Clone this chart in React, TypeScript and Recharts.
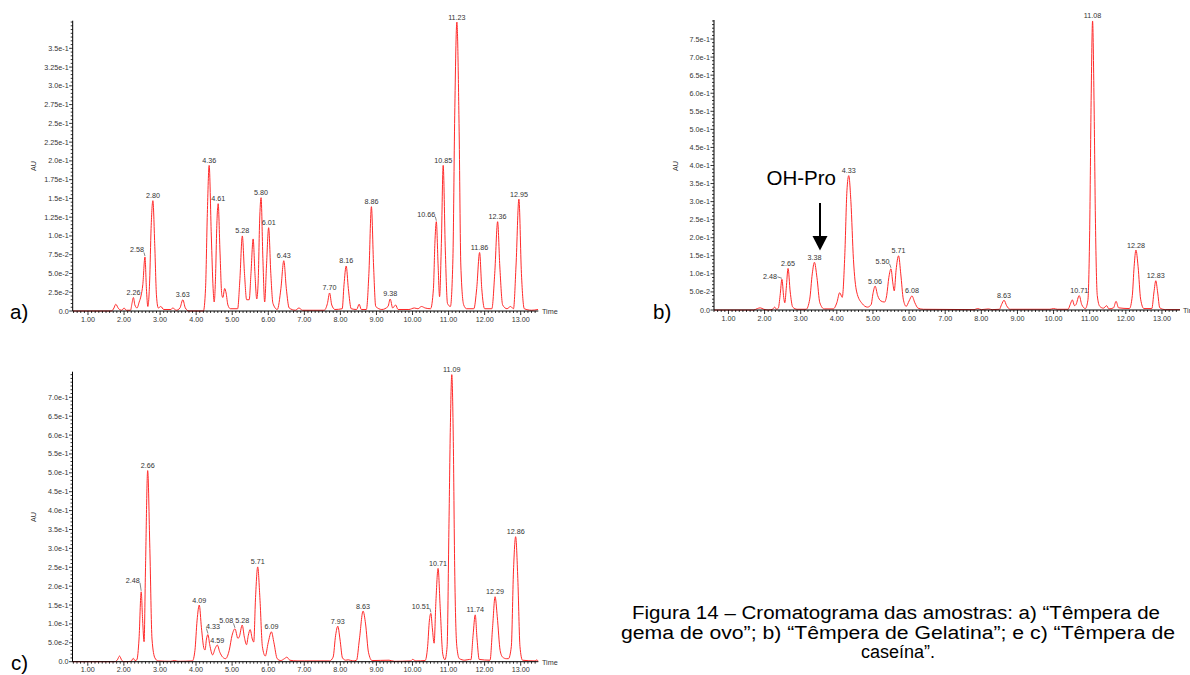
import React from "react";
import { LineChart, Line, XAxis, YAxis } from "recharts";

// chromatogram traces: [time (min), AU]
const traceA = [
  [0.58, 0], [1.65, 0], [1.72, 0.004], [1.77, 0.009], [1.85, 0.003], [1.94, 0.001], [2.0, 0.004], [2.06, 0.001],
  [2.18, 0.001], [2.22, 0.01], [2.26, 0.018], [2.3, 0.008], [2.36, 0.004], [2.42, 0.012], [2.47, 0.02], [2.52, 0.035],
  [2.58, 0.072], [2.62, 0.03], [2.66, 0.006], [2.71, 0.04], [2.75, 0.11], [2.8, 0.147], [2.85, 0.09], [2.9, 0.02],
  [2.95, 0.004], [3.02, 0.006], [3.1, 0.002], [3.3, 0.002], [3.35, 0.004], [3.45, 0.001], [3.55, 0.004], [3.63, 0.015],
  [3.7, 0.004], [3.8, 0], [4.2, 0], [4.26, 0.03], [4.31, 0.13], [4.36, 0.194], [4.42, 0.1], [4.47, 0.03], [4.5, 0.012],
  [4.54, 0.05], [4.57, 0.11], [4.61, 0.143], [4.66, 0.08], [4.71, 0.022], [4.74, 0.018], [4.79, 0.03], [4.83, 0.024],
  [4.88, 0.008], [4.95, 0.003], [5.15, 0.003], [5.21, 0.04], [5.28, 0.1], [5.34, 0.05], [5.4, 0.015], [5.47, 0.015],
  [5.52, 0.05], [5.58, 0.096], [5.63, 0.05], [5.68, 0.016], [5.72, 0.04], [5.76, 0.12], [5.8, 0.151], [5.85, 0.07],
  [5.9, 0.012], [5.95, 0.06], [6.01, 0.111], [6.07, 0.05], [6.13, 0.01], [6.25, 0.002], [6.35, 0.03], [6.43, 0.067],
  [6.5, 0.03], [6.58, 0.004], [6.75, 0.001], [6.85, 0.004], [6.95, 0.001], [7.55, 0.001], [7.64, 0.01], [7.7, 0.024],
  [7.76, 0.008], [7.85, 0.002], [8.05, 0.003], [8.1, 0.035], [8.16, 0.06], [8.22, 0.03], [8.3, 0.003], [8.45, 0.002],
  [8.52, 0.009], [8.58, 0.002], [8.72, 0.002], [8.79, 0.05], [8.86, 0.139], [8.92, 0.06], [8.98, 0.006], [9.15, 0.002],
  [9.32, 0.006], [9.38, 0.016], [9.45, 0.004], [9.53, 0.008], [9.6, 0.002], [9.9, 0.002], [10.05, 0.004], [10.15, 0.003],
  [10.25, 0.006], [10.35, 0.004], [10.5, 0.003], [10.58, 0.03], [10.62, 0.09], [10.66, 0.119], [10.71, 0.06],
  [10.75, 0.019], [10.8, 0.09], [10.85, 0.194], [10.91, 0.08], [10.97, 0.01], [11.05, 0.006], [11.12, 0.07],
  [11.17, 0.26], [11.23, 0.385], [11.29, 0.25], [11.34, 0.06], [11.42, 0.008], [11.5, 0.003], [11.7, 0.003],
  [11.78, 0.03], [11.86, 0.078], [11.92, 0.03], [12.0, 0.003], [12.2, 0.003], [12.28, 0.05], [12.36, 0.119],
  [12.42, 0.06], [12.5, 0.008], [12.62, 0.003], [12.72, 0.006], [12.8, 0.003], [12.87, 0.06], [12.95, 0.149],
  [13.02, 0.05], [13.1, 0.003], [13.3, 0.001], [13.48, 0.002],
];

const traceB = [
  [0.6, 0], [1.7, 0], [1.8, 0.004], [1.88, 0.006], [1.98, 0.002], [2.1, 0], [2.22, 0.002], [2.28, 0.008], [2.33, 0.002],
  [2.38, 0.005], [2.43, 0.04], [2.48, 0.085], [2.53, 0.035], [2.56, 0.02], [2.6, 0.06], [2.65, 0.115], [2.71, 0.05],
  [2.78, 0.008], [2.9, 0.002], [3.15, 0.002], [3.25, 0.03], [3.32, 0.1], [3.38, 0.132], [3.45, 0.09], [3.53, 0.02],
  [3.65, 0.003], [3.9, 0.003], [4.0, 0.02], [4.08, 0.048], [4.15, 0.035], [4.22, 0.15], [4.28, 0.33], [4.33, 0.372],
  [4.39, 0.3], [4.46, 0.14], [4.55, 0.05], [4.7, 0.018], [4.85, 0.008], [4.95, 0.015], [5.0, 0.045], [5.06, 0.066],
  [5.13, 0.04], [5.22, 0.025], [5.32, 0.022], [5.38, 0.04], [5.44, 0.09], [5.5, 0.114], [5.55, 0.075], [5.59, 0.053],
  [5.64, 0.11], [5.71, 0.15], [5.77, 0.1], [5.84, 0.03], [5.92, 0.01], [6.0, 0.025], [6.08, 0.039], [6.16, 0.02],
  [6.25, 0.005], [6.4, 0.002], [7.8, 0.001], [7.9, 0.004], [8.0, 0.001], [8.2, 0.003], [8.3, 0.001], [8.5, 0.002],
  [8.56, 0.015], [8.63, 0.027], [8.7, 0.012], [8.8, 0.002], [9.9, 0.002], [10.0, 0.004], [10.1, 0.002], [10.4, 0.002],
  [10.46, 0.015], [10.52, 0.028], [10.58, 0.012], [10.62, 0.015], [10.71, 0.04], [10.78, 0.015], [10.88, 0.004],
  [10.95, 0.027], [11.0, 0.22], [11.04, 0.58], [11.08, 0.8], [11.12, 0.58], [11.16, 0.24], [11.21, 0.04], [11.28, 0.01],
  [11.38, 0.005], [11.47, 0.012], [11.53, 0.003], [11.66, 0.006], [11.73, 0.024], [11.8, 0.006], [12.1, 0.004],
  [12.18, 0.04], [12.23, 0.12], [12.28, 0.166], [12.34, 0.12], [12.41, 0.03], [12.5, 0.004], [12.72, 0.004],
  [12.78, 0.05], [12.83, 0.081], [12.88, 0.05], [12.94, 0.006], [13.1, 0.001], [13.5, 0.001],
];

const traceC = [
  [0.58, 0], [1.75, 0], [1.82, 0.005], [1.88, 0.015], [1.94, 0.004], [2.0, 0], [2.2, 0.001], [2.26, 0.009], [2.31, 0.003],
  [2.36, 0.005], [2.42, 0.06], [2.48, 0.185], [2.52, 0.11], [2.56, 0.053], [2.6, 0.25], [2.66, 0.506], [2.72, 0.3],
  [2.78, 0.06], [2.86, 0.01], [2.95, 0.002], [3.3, 0.001], [3.4, 0.003], [3.5, 0.001], [3.9, 0.002], [3.97, 0.03],
  [4.03, 0.11], [4.09, 0.15], [4.15, 0.09], [4.22, 0.035], [4.25, 0.031], [4.29, 0.06], [4.33, 0.072], [4.38, 0.045],
  [4.46, 0.018], [4.53, 0.035], [4.59, 0.044], [4.66, 0.025], [4.74, 0.012], [4.82, 0.008], [4.92, 0.03], [5.0, 0.07],
  [5.08, 0.087], [5.16, 0.062], [5.2, 0.066], [5.28, 0.097], [5.34, 0.065], [5.4, 0.045], [5.45, 0.07], [5.5, 0.085],
  [5.56, 0.06], [5.6, 0.052], [5.65, 0.17], [5.71, 0.251], [5.77, 0.17], [5.84, 0.04], [5.92, 0.015], [6.0, 0.05],
  [6.09, 0.079], [6.16, 0.05], [6.25, 0.008], [6.35, 0.003], [6.45, 0.008], [6.52, 0.012], [6.6, 0.004], [6.8, 0.002],
  [7.0, 0.002], [7.7, 0.002], [7.8, 0.012], [7.87, 0.07], [7.93, 0.094], [7.99, 0.06], [8.06, 0.01], [8.15, 0.004],
  [8.22, 0.005], [8.35, 0.002], [8.45, 0.004], [8.53, 0.06], [8.63, 0.134], [8.7, 0.1], [8.78, 0.025], [8.88, 0.003],
  [9.35, 0.004], [9.5, 0.001], [9.95, 0.002], [10.0, 0.006], [10.1, 0.002], [10.35, 0.003], [10.42, 0.04], [10.47, 0.11],
  [10.51, 0.128], [10.55, 0.09], [10.6, 0.049], [10.65, 0.16], [10.71, 0.247], [10.77, 0.14], [10.84, 0.02], [10.9, 0.005],
  [10.96, 0.04], [11.01, 0.35], [11.05, 0.62], [11.09, 0.76], [11.13, 0.6], [11.17, 0.25], [11.23, 0.04], [11.3, 0.008],
  [11.45, 0.004], [11.58, 0.006], [11.62, 0.005], [11.68, 0.07], [11.74, 0.124], [11.79, 0.06], [11.85, 0.006],
  [12.15, 0.004], [12.22, 0.09], [12.29, 0.172], [12.35, 0.12], [12.43, 0.03], [12.5, 0.012], [12.6, 0.008],
  [12.66, 0.008], [12.74, 0.04], [12.8, 0.24], [12.86, 0.331], [12.92, 0.22], [12.98, 0.04], [13.05, 0.004],
  [13.4, 0.002], [13.45, 0.005], [13.48, 0.001],
];

// labelled peaks: [time, AU, label]
const peaksA: [number, number, string][] = [
  [2.26, 0.018, "2.26"], [2.58, 0.072, "2.58"], [2.8, 0.147, "2.80"], [3.63, 0.015, "3.63"], [4.36, 0.194, "4.36"],
  [4.61, 0.143, "4.61"], [5.28, 0.1, "5.28"], [5.8, 0.151, "5.80"], [6.01, 0.111, "6.01"], [6.43, 0.067, "6.43"],
  [7.7, 0.024, "7.70"], [8.16, 0.06, "8.16"], [8.86, 0.139, "8.86"], [9.38, 0.016, "9.38"], [10.66, 0.119, "10.66"],
  [10.85, 0.194, "10.85"], [11.23, 0.385, "11.23"], [11.86, 0.078, "11.86"], [12.36, 0.119, "12.36"], [12.95, 0.149, "12.95"],
];
const peaksB: [number, number, string][] = [
  [2.48, 0.085, "2.48"], [2.65, 0.115, "2.65"], [3.38, 0.132, "3.38"], [4.33, 0.372, "4.33"], [5.06, 0.066, "5.06"],
  [5.5, 0.114, "5.50"], [5.71, 0.15, "5.71"], [6.08, 0.039, "6.08"], [8.63, 0.027, "8.63"], [10.71, 0.04, "10.71"],
  [11.08, 0.8, "11.08"], [12.28, 0.166, "12.28"], [12.83, 0.081, "12.83"],
];
const peaksC: [number, number, string][] = [
  [2.48, 0.185, "2.48"], [2.66, 0.506, "2.66"], [4.09, 0.15, "4.09"], [4.33, 0.072, "4.33"], [4.59, 0.044, "4.59"],
  [5.08, 0.087, "5.08"], [5.28, 0.097, "5.28"], [5.71, 0.251, "5.71"], [6.09, 0.079, "6.09"], [7.93, 0.094, "7.93"],
  [8.63, 0.134, "8.63"], [10.51, 0.128, "10.51"], [10.71, 0.247, "10.71"], [11.09, 0.76, "11.09"], [11.74, 0.124, "11.74"],
  [12.29, 0.172, "12.29"], [12.86, 0.331, "12.86"],
];

// axis ticks
const xMajor = [1, 2, 3, 4, 5, 6, 7, 8, 9, 10, 11, 12, 13];
const xLabels = ["1.00", "2.00", "3.00", "4.00", "5.00", "6.00", "7.00", "8.00", "9.00", "10.00", "11.00", "12.00", "13.00"];
const yMajorA = [0, 0.025, 0.05, 0.075, 0.1, 0.125, 0.15, 0.175, 0.2, 0.225, 0.25, 0.275, 0.3, 0.325, 0.35];
const yLabelsA = ["0.0", "2.5e-2", "5.0e-2", "7.5e-2", "1.0e-1", "1.25e-1", "1.5e-1", "1.75e-1", "2.0e-1", "2.25e-1", "2.5e-1", "2.75e-1", "3.0e-1", "3.25e-1", "3.5e-1"];
const yMajorB = [0, 0.05, 0.1, 0.15, 0.2, 0.25, 0.3, 0.35, 0.4, 0.45, 0.5, 0.55, 0.6, 0.65, 0.7, 0.75];
const yLabelsB = ["0.0", "5.0e-2", "1.0e-1", "1.5e-1", "2.0e-1", "2.5e-1", "3.0e-1", "3.5e-1", "4.0e-1", "4.5e-1", "5.0e-1", "5.5e-1", "6.0e-1", "6.5e-1", "7.0e-1", "7.5e-1"];
const yMajorC = [0, 0.05, 0.1, 0.15, 0.2, 0.25, 0.3, 0.35, 0.4, 0.45, 0.5, 0.55, 0.6, 0.65, 0.7];
const yLabelsC = ["0.0", "5.0e-2", "1.0e-1", "1.5e-1", "2.0e-1", "2.5e-1", "3.0e-1", "3.5e-1", "4.0e-1", "4.5e-1", "5.0e-1", "5.5e-1", "6.0e-1", "6.5e-1", "7.0e-1"];

const steps = (from: number, to: number, step: number) =>
  Array.from({ length: Math.round((to - from) / step) + 1 }, (_, i) => +(from + i * step).toFixed(4));
const xMinor = steps(0.6, 13.4, 0.1);

// labels that sit off to one side with a short leader line
const leaders: Record<string, { anchor: string; dx: number; dy: number; lx: number; ly: number }> = {
  "a:2.58": { anchor: "end", dx: -1, dy: -4.5, lx: -1, ly: -4.5 },
  "a:10.66": { anchor: "end", dx: -1, dy: -5, lx: -1, ly: -5 },
  "b:2.48": { anchor: "end", dx: -5, dy: -0.7, lx: -4.5, ly: -2.5 },
  "b:5.50": { anchor: "end", dx: -1.5, dy: -5.2, lx: -1.5, ly: -5 },
  "c:2.48": { anchor: "end", dx: -1.4, dy: -9.2, lx: -1.2, ly: -9 },
  "c:4.33": { anchor: "start", dx: -2, dy: -6, lx: -1.5, ly: -6 },
  "c:5.08": { anchor: "end", dx: -1.8, dy: -5.5, lx: -1.5, ly: -5.5 },
  "c:10.51": { anchor: "end", dx: -1, dy: -4.8, lx: -1, ly: -5 },
};

const RED = "#ff2a2a";
const TXT = "#333";
const FS = 7.2;

const toPts = (rows: number[][]) => rows.map(([t, v]) => ({ t, v }));
const toPeaks = (rows: [number, number, string][]) => rows.map(([t, v, text]) => ({ t, v, text }));

const xTick = (p: any) => {
  const v = p.payload.value;
  const i = xMajor.findIndex((m) => Math.abs(m - v) < 1e-6);
  return (
    <g key={`x-${v}`}>
      <line x1={p.x} x2={p.x} y1={p.y} y2={p.y + (i >= 0 ? 4 : 2)} stroke="#000" strokeWidth={0.8} />
      {i >= 0 && (
        <text x={p.x} y={p.y + 10.6} textAnchor="middle" fontSize={FS} fill={TXT}>
          {xLabels[i]}
        </text>
      )}
    </g>
  );
};

const yTick = (majors: number[], labels: string[]) => (p: any) => {
  const v = p.payload.value;
  const i = majors.findIndex((m) => Math.abs(m - v) < 1e-6);
  return (
    <g key={`y-${v}`}>
      <line x1={p.x - (i >= 0 ? 3.5 : 2)} x2={p.x} y1={p.y} y2={p.y} stroke="#000" strokeWidth={0.8} />
      {i >= 0 && (
        <text x={p.x - 4} y={p.y} dy="0.35em" textAnchor="end" fontSize={FS} fill={TXT}>
          {labels[i]}
        </text>
      )}
    </g>
  );
};

const peakDot = (panel: string) => (p: any) => {
  const { cx, cy, payload, index } = p;
  const ld = leaders[`${panel}:${payload.text}`];
  if (!ld) {
    return (
      <text key={`pk-${index}`} x={cx} y={cy - 2.5} textAnchor="middle" fontSize={FS} fill={TXT}>
        {payload.text}
      </text>
    );
  }
  return (
    <g key={`pk-${index}`}>
      <text x={cx + ld.dx} y={cy + ld.dy} textAnchor={ld.anchor as any} fontSize={FS} fill={TXT}>
        {payload.text}
      </text>
      <line x1={cx + ld.lx} y1={cy + ld.ly} x2={cx} y2={cy - 1} stroke={TXT} strokeWidth={0.6} />
    </g>
  );
};

function Chromatogram(props: {
  panel: string; left: number; top: number; width: number; height: number;
  margin: { top: number; left: number; right: number; bottom: number };
  xDomain: [number, number]; yMax: number; trace: number[][]; peaks: [number, number, string][];
  yMajor: number[]; yLabels: string[]; yStep: number;
}) {
  const { panel, left, top, width, height, margin, xDomain, yMax, trace, peaks, yMajor, yLabels, yStep } = props;
  const yTicks = steps(0, Math.floor(yMax / yStep + 1e-6) * yStep, yStep);
  // the axes take 1px each, so the plot area starts 1px in from the margins
  const m = { ...margin, left: margin.left - 1, bottom: margin.bottom - 1 };
  return (
    <div style={{ position: "absolute", left, top }}>
      <LineChart width={width} height={height} margin={m}>
        <XAxis
          dataKey="t" type="number" domain={xDomain} ticks={xMinor} interval={0}
          height={1} tickSize={0} tickMargin={0} tickLine={false}
          axisLine={{ stroke: "#000", strokeWidth: 1 }} tick={xTick}
        />
        <YAxis
          type="number" domain={[0, yMax]} ticks={yTicks} interval={0}
          width={1} tickSize={0} tickMargin={0} tickLine={false}
          axisLine={{ stroke: "#000", strokeWidth: 1 }} tick={yTick(yMajor, yLabels)}
        />
        <Line
          data={toPts(trace)} dataKey="v" type="monotone" stroke={RED} strokeWidth={1}
          dot={false} activeDot={false} isAnimationActive={false}
        />
        <Line
          data={toPeaks(peaks)} dataKey="v" stroke="none" dot={peakDot(panel)}
          activeDot={false} isAnimationActive={false}
        />
      </LineChart>
    </div>
  );
}

export default function App() {
  return (
    <div
      style={{
        position: "absolute", left: 0, top: 0, width: 1190, height: 675, overflow: "hidden",
        background: "#fff", fontFamily: "'Liberation Sans', Arial, sans-serif",
      }}
    >
      <Chromatogram
        panel="a" left={0} top={0} width={560} height={335}
        margin={{ top: 20.7, left: 72.7, right: 21.7, bottom: 24 }}
        xDomain={[0.576, 13.488]} yMax={0.3868} trace={traceA} peaks={peaksA}
        yMajor={yMajorA} yLabels={yLabelsA} yStep={0.005}
      />
      <Chromatogram
        panel="b" left={580} top={0} width={610} height={335}
        margin={{ top: 20, left: 134, right: 10, bottom: 25 }}
        xDomain={[0.6, 13.5]} yMax={0.8027} trace={traceB} peaks={peaksB}
        yMajor={yMajorB} yLabels={yLabelsB} yStep={0.01}
      />
      <Chromatogram
        panel="c" left={0} top={340} width={560} height={335}
        margin={{ top: 31.7, left: 72.5, right: 21.7, bottom: 13.3 }}
        xDomain={[0.576, 13.488]} yMax={0.7678} trace={traceC} peaks={peaksC}
        yMajor={yMajorC} yLabels={yLabelsC} yStep={0.01}
      />
      <svg width={1190} height={675} style={{ position: "absolute", left: 0, top: 0, pointerEvents: "none" }}>
        <g fontSize={FS} fill={TXT}>
          <text transform="translate(33,166) rotate(-90)" textAnchor="middle" dy="0.35em">AU</text>
          <text transform="translate(675,166) rotate(-90)" textAnchor="middle" dy="0.35em">AU</text>
          <text transform="translate(33,517) rotate(-90)" textAnchor="middle" dy="0.35em">AU</text>
          <text x={542} y={311} dy="0.35em">Time</text>
          <text x={1183} y={310} dy="0.35em">Time</text>
          <text x={542} y={662} dy="0.35em">Time</text>
        </g>
        <g fontSize={20.5} fill="#000">
          <text x={10} y={319}>a)</text>
          <text x={653} y={319}>b)</text>
          <text x={11} y={670}>c)</text>
        </g>
        <text x={766.5} y={185} fontSize={20.5} fill="#000">OH-Pro</text>
        <line x1={820} x2={820} y1={203} y2={237} stroke="#000" strokeWidth={2} />
        <polygon points="812.5,236 827.5,236 820,250.5" fill="#000" />
        <g fontSize={18} fill="#000" textAnchor="middle">
          <text x={896} y={619} textLength={528} lengthAdjust="spacingAndGlyphs">
            Figura 14 – Cromatograma das amostras: a) “Têmpera de
          </text>
          <text x={898} y={639} textLength={554} lengthAdjust="spacingAndGlyphs">
            gema de ovo”; b) “Têmpera de Gelatina”; e c) “Têmpera de
          </text>
          <text x={898} y={658}>caseína”.</text>
        </g>
      </svg>
    </div>
  );
}
